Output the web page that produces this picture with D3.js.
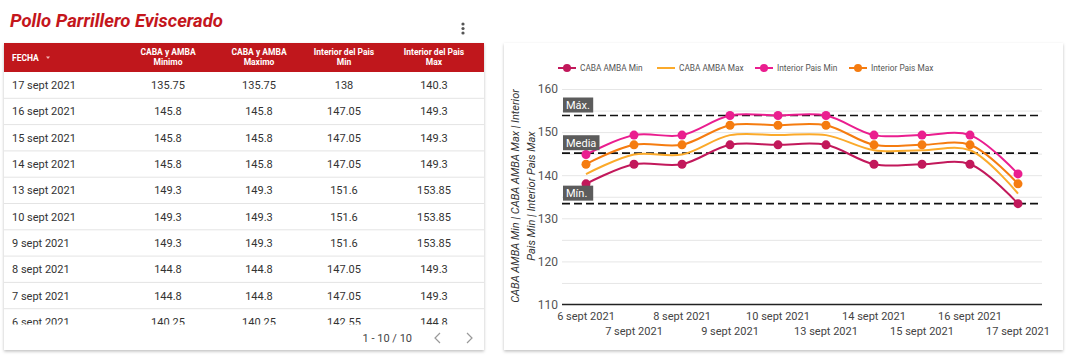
<!DOCTYPE html>
<html>
<head>
<meta charset="utf-8">
<script src="https://cdn.jsdelivr.net/npm/d3@7"></script>
<style>
  body { margin: 0; background: #fff; font-family: Roboto, "Noto Sans", sans-serif; }
  svg text { font-family: Roboto, "Noto Sans", sans-serif; }
</style>
</head>
<body>
<svg id="root" width="1080" height="362"></svg>
<script>
// table data (newest first)
const fechas = ["17 sept 2021", "16 sept 2021", "15 sept 2021", "14 sept 2021", "13 sept 2021",
  "10 sept 2021", "9 sept 2021", "8 sept 2021", "7 sept 2021", "6 sept 2021"];
const cabaMinimo = [135.75, 145.8, 145.8, 145.8, 149.3, 149.3, 149.3, 144.8, 144.8, 140.25];
const cabaMaximo = [135.75, 145.8, 145.8, 145.8, 149.3, 149.3, 149.3, 144.8, 144.8, 140.25];
const interiorMin = [138, 147.05, 147.05, 147.05, 151.6, 151.6, 151.6, 147.05, 147.05, 142.55];
const interiorMax = [140.3, 149.3, 149.3, 149.3, 153.85, 153.85, 153.85, 149.3, 149.3, 144.8];
const headers = [["FECHA"], ["CABA y AMBA", "Minimo"], ["CABA y AMBA", "Maximo"],
  ["Interior del Pais", "Min"], ["Interior del Pais", "Max"]];

// chart data (oldest first)
const chartDates = ["6 sept 2021", "7 sept 2021", "8 sept 2021", "9 sept 2021", "10 sept 2021",
  "13 sept 2021", "14 sept 2021", "15 sept 2021", "16 sept 2021", "17 sept 2021"];
const serieCabaMin = [138, 142.55, 142.55, 147.05, 147.05, 147.05, 142.55, 142.55, 142.55, 133.4];
const serieCabaMax = [140.25, 144.8, 144.8, 149.3, 149.3, 149.3, 145.8, 145.8, 145.8, 135.75];
const serieInteriorMin = [144.8, 149.3, 149.3, 153.85, 153.85, 153.85, 149.3, 149.3, 149.3, 140.3];
const serieInteriorMax = [142.55, 147.05, 147.05, 151.6, 151.6, 151.6, 147.05, 147.05, 147.05, 138];
const refLabels = ["Máx.", "Media", "Mín."];
const refValues = [153.85, 145.1, 133.4];
const yTicks = [110, 120, 130, 140, 150, 160];

const svg = d3.select("#root");

let defs = svg.append("defs");
let shadow = defs.append("filter").attr("id", "shadow")
  .attr("x", "-5%").attr("y", "-5%").attr("width", "110%").attr("height", "115%");
shadow.append("feDropShadow").attr("dx", 0).attr("dy", 1.5).attr("stdDeviation", 1.5)
  .attr("flood-color", "#000").attr("flood-opacity", 0.25);

// ---------- left panel: table ----------
svg.append("text")
  .attr("x", 10).attr("y", 27)
  .attr("font-size", 18.5).attr("font-weight", 700).attr("font-style", "italic")
  .attr("fill", "#c4161c")
  .text("Pollo Parrillero Eviscerado");

// kebab menu
svg.selectAll("circle.menu-dot")
  .data([0, 1, 2])
  .enter().append("circle")
  .classed("menu-dot", true)
  .attr("cx", 463).attr("cy", (d) => 24 + d * 4.5).attr("r", 1.6)
  .attr("fill", "#555");

let tableCard = svg.append("g");
tableCard.append("rect")
  .attr("x", 4).attr("y", 43).attr("width", 480).attr("height", 307)
  .attr("fill", "#fff").attr("filter", "url(#shadow)");
tableCard.append("rect")
  .attr("x", 4).attr("y", 43).attr("width", 480).attr("height", 29)
  .attr("fill", "#c0171c");

let colX = [12, 168, 259, 344, 434];
let rowTop = 72;
let rowH = 26.3;

let header = tableCard.selectAll("text.col-header")
  .data(headers)
  .enter().append("text")
  .classed("col-header", true)
  .attr("x", (d, i) => colX[i])
  .attr("y", (d) => d.length === 1 ? 61 : 55)
  .attr("text-anchor", (d, i) => i === 0 ? "start" : "middle")
  .attr("font-size", 8.5).attr("font-weight", 700).attr("fill", "#fff");
header.each(function (d, i) {
  let t = d3.select(this);
  d.forEach((line, k) => {
    t.append("tspan").attr("x", colX[i]).attr("dy", k === 0 ? 0 : 10).text(line);
  });
});
// sort arrow
tableCard.append("path")
  .attr("d", "M46,56.5 L50,56.5 L48,59 Z")
  .attr("fill", "#f3b3b3");

defs.append("clipPath").attr("id", "rows-clip")
  .append("rect").attr("x", 4).attr("y", 72).attr("width", 480).attr("height", 252.5);

let body = tableCard.append("g").attr("clip-path", "url(#rows-clip)");
let rows = fechas.map((f, i) => [f, cabaMinimo[i], cabaMaximo[i], interiorMin[i], interiorMax[i]]);

body.selectAll("line.row-line")
  .data(rows)
  .enter().append("line")
  .classed("row-line", true)
  .attr("x1", 4).attr("x2", 484)
  .attr("y1", (d, i) => rowTop + (i + 1) * rowH)
  .attr("y2", (d, i) => rowTop + (i + 1) * rowH)
  .attr("stroke", "#e4e4e4");

let rowG = body.selectAll("g.row")
  .data(rows)
  .enter().append("g")
  .classed("row", true)
  .attr("transform", (d, i) => `translate(0, ${rowTop + i * rowH + rowH / 2 + 4})`);
rowG.selectAll("text")
  .data((d) => d)
  .enter().append("text")
  .attr("x", (d, i) => colX[i])
  .attr("text-anchor", (d, i) => i === 0 ? "start" : "middle")
  .attr("font-size", 11).attr("fill", "#333")
  .text((d) => d);

tableCard.append("text")
  .attr("x", 412).attr("y", 342).attr("text-anchor", "end")
  .attr("font-size", 11).attr("fill", "#444")
  .text("1 - 10 / 10");
tableCard.append("path")
  .attr("d", "M440,333 L435,338 L440,343").attr("fill", "none")
  .attr("stroke", "#999").attr("stroke-width", 1.2);
tableCard.append("path")
  .attr("d", "M467,333 L472,338 L467,343").attr("fill", "none")
  .attr("stroke", "#999").attr("stroke-width", 1.2);

// ---------- right panel: line chart ----------
svg.append("rect")
  .attr("x", 504).attr("y", 43).attr("width", 559).attr("height", 307)
  .attr("fill", "#fff").attr("filter", "url(#shadow)");

let series = [
  { name: "CABA AMBA Min", values: serieCabaMin, color: "#c2185b", dots: true },
  { name: "CABA AMBA Max", values: serieCabaMax, color: "#fbaa2b", dots: false },
  { name: "Interior Pais Min", values: serieInteriorMin, color: "#ea1e8f", dots: true },
  { name: "Interior Pais Max", values: serieInteriorMax, color: "#f57c10", dots: true }
];

let plotLeft = 562, plotRight = 1042, plotTop = 89, plotBottom = 304.5;
let x = d3.scaleBand().domain(chartDates).range([plotLeft, plotRight]);
let xc = (d) => x(d) + x.bandwidth() / 2;
let y = d3.scaleLinear().domain([110, 160]).range([plotBottom, plotTop]);

let chart = svg.append("g");

// grid (every 5)
chart.append("g")
  .attr("transform", `translate(${plotLeft},0)`)
  .call(d3.axisLeft(y).tickValues(d3.range(115, 161, 5)).tickSize(-(plotRight - plotLeft)).tickFormat(""))
  .call((g) => g.select(".domain").remove())
  .call((g) => g.selectAll("line").attr("stroke", "#e6e6e6"));

// y labels
chart.append("g")
  .attr("transform", `translate(${plotLeft - 4},0)`)
  .call(d3.axisLeft(y).tickValues(yTicks).tickSize(0).tickPadding(0))
  .call((g) => g.select(".domain").remove())
  .call((g) => g.selectAll("text").attr("font-size", 12).attr("fill", "#555")
    .attr("font-family", "Roboto, sans-serif"));

// baseline
chart.append("line")
  .attr("x1", plotLeft).attr("x2", plotRight)
  .attr("y1", y(110)).attr("y2", y(110))
  .attr("stroke", "#222").attr("stroke-width", 1.3);

// x labels (alternating rows)
chart.selectAll("text.x-label")
  .data(chartDates)
  .enter().append("text")
  .classed("x-label", true)
  .attr("x", (d) => xc(d))
  .attr("y", (d, i) => i % 2 === 0 ? 320 : 335)
  .attr("text-anchor", "middle")
  .attr("font-size", 11).attr("fill", "#444")
  .text((d) => d);

// y title
chart.append("text")
  .attr("transform", `translate(519, 196) rotate(-90)`)
  .attr("text-anchor", "middle")
  .attr("font-size", 11).attr("font-style", "italic").attr("fill", "#333")
  .selectAll("tspan")
  .data(["CABA AMBA Min | CABA AMBA Max | Interior", "Pais Min | Interior Pais Max"])
  .enter().append("tspan")
  .attr("x", 0).attr("dy", (d, i) => i === 0 ? 0 : 15.5)
  .text((d) => d);

// reference lines
let refs = refLabels.map((l, i) => ({ label: l, value: refValues[i] }));
chart.selectAll("line.ref-line")
  .data(refs)
  .enter().append("line")
  .classed("ref-line", true)
  .attr("x1", plotLeft).attr("x2", plotRight)
  .attr("y1", (d) => y(d.value)).attr("y2", (d) => y(d.value))
  .attr("stroke", "#111").attr("stroke-width", 1.7).attr("stroke-dasharray", "8,4");

// lines
let line = d3.line()
  .x((d, i) => xc(chartDates[i]))
  .y((d) => y(d))
  .curve(d3.curveCatmullRom.alpha(0.5));

chart.selectAll("path.series")
  .data(series)
  .enter().append("path")
  .classed("series", true)
  .attr("d", (d) => line(d.values))
  .attr("fill", "none")
  .attr("stroke", (d) => d.color)
  .attr("stroke-width", 2);

series.filter((s) => s.dots).forEach((s) => {
  chart.selectAll(null)
    .data(s.values)
    .enter().append("circle")
    .attr("cx", (d, i) => xc(chartDates[i]))
    .attr("cy", (d) => y(d))
    .attr("r", 4.5)
    .attr("fill", s.color);
});

// reference labels
let refLabel = chart.selectAll("g.ref-label")
  .data(refs)
  .enter().append("g")
  .classed("ref-label", true)
  .attr("transform", (d) => `translate(${plotLeft + 1}, ${y(d.value) - 18})`);
refLabel.append("rect")
  .attr("width", (d) => d.label.length * 6.3 + 5)
  .attr("height", 15)
  .attr("fill", "#5c5c5c");
refLabel.append("text")
  .attr("x", 3).attr("y", 11.5)
  .attr("font-size", 11).attr("fill", "#fff")
  .text((d) => d.label);

// legend
let legendX = [558, 657, 755, 849];
let legendG = chart.selectAll("g.legend")
  .data(series)
  .enter().append("g")
  .classed("legend", true)
  .attr("transform", (d, i) => `translate(${legendX[i]}, 68)`);
legendG.append("line")
  .attr("x1", 0).attr("x2", 18)
  .attr("stroke", (d) => d.color).attr("stroke-width", 2);
legendG.filter((d) => d.dots).append("circle")
  .attr("cx", 9).attr("r", 4).attr("fill", (d) => d.color);
legendG.append("text")
  .attr("x", 22).attr("y", 3)
  .attr("font-size", 8.3).attr("fill", "#555")
  .text((d) => d.name);
</script>
</body>
</html>
